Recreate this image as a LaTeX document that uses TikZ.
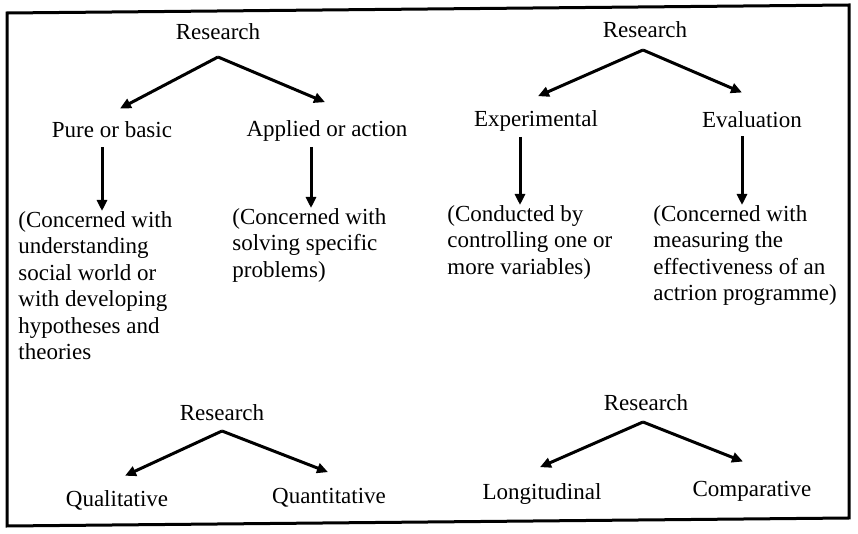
\documentclass[tikz,border=0pt]{standalone}
\usepackage{fontspec}
\setmainfont{Liberation Serif}
\usetikzlibrary{arrows.meta,calc}

\begin{document}
\begin{tikzpicture}[x=0.5pt,y=-0.5pt,
	word/.style={inner sep=0pt, font=\fontsize{11.5}{13.25}\selectfont},
	para/.style={word, align=left, anchor=north west},
	arr/.style={line width=1.5pt, -{Triangle[length=5.5pt,width=5pt]}}]
			%%%%% START %%%%%
			\useasboundingbox (0,0) rectangle (858,534);
			
			\draw[line width=1.5pt] (7,13) -- (849,5) -- (849,518) -- (7,526) -- cycle;
			
			% pure / applied
			\node[word] (resA) at (218,32) {Research};
			\coordinate (forkA) at (218,57);
			\node[word] (pure) at (112,130) {Pure or basic};
			\node[word] (applied) at (327,131) {Applied or action};
			\draw[arr] (forkA) -- ($(pure.north)+(8,-13)$);
			\draw[arr] (forkA) -- ($(applied.north)+(-2,-18)$);
			
			\node[para] (pureTxt) at (18,211) {(Concerned with\\understanding\\social world or\\with developing\\hypotheses and\\theories};
			\node[para] (appliedTxt) at (232,208) {(Concerned with\\solving specific\\problems)};
			\coordinate (pureDn) at ($(pure.south)+(-10,9)$);
			\coordinate (appliedDn) at ($(applied.south)+(-16,5)$);
			\draw[arr] (pureDn) -- (pureDn |- pureTxt.north);
			\draw[arr] (appliedDn) -- (appliedDn |- appliedTxt.north);
			
			% experimental / evaluation
			\node[word] (resB) at (645,30) {Research};
			\coordinate (forkB) at (643,50);
			\node[word] (exper) at (536,121) {Experimental};
			\node[word] (evalu) at (752,120) {Evaluation};
			\draw[arr] (forkB) -- ($(exper.north)+(2,-14)$);
			\draw[arr] (forkB) -- ($(evalu.north)+(-10,-19)$);
			
			\node[para] (experTxt) at (447,205) {(Conducted by\\controlling one or\\more variables)};
			\node[para] (evaluTxt) at (653,205) {(Concerned with\\measuring the\\effectiveness of an\\actrion programme)};
			\coordinate (experDn) at ($(exper.south)+(-16,5)$);
			\coordinate (evaluDn) at ($(evalu.south)+(-10,8)$);
			\draw[arr] (experDn) -- (experDn |- experTxt.north);
			\draw[arr] (evaluDn) -- (evaluDn |- evaluTxt.north);
			
			% qualitative / quantitative
			\node[word] (resC) at (222,413) {Research};
			\coordinate (forkC) at (222,431);
			\node[word] (qual) at (117,500) {Qualitative};
			\node[word] (quant) at (329,498) {Quantitative};
			\draw[arr] (forkC) -- ($(qual.north)+(8,-14)$);
			\draw[arr] (forkC) -- ($(quant.north)+(-1,-16)$);
			
			% longitudinal / comparative
			\node[word] (resD) at (646,403) {Research};
			\coordinate (forkD) at (643,422);
			\node[word] (longi) at (542,494) {Longitudinal};
			\node[word] (compar) at (752,491) {Comparative};
			\draw[arr] (forkD) -- ($(longi.north)+(-2,-16)$);
			\draw[arr] (forkD) -- ($(compar.north)+(-9,-19)$);
			
			%%%%% END %%%%%
		\end{tikzpicture}
\end{document}
